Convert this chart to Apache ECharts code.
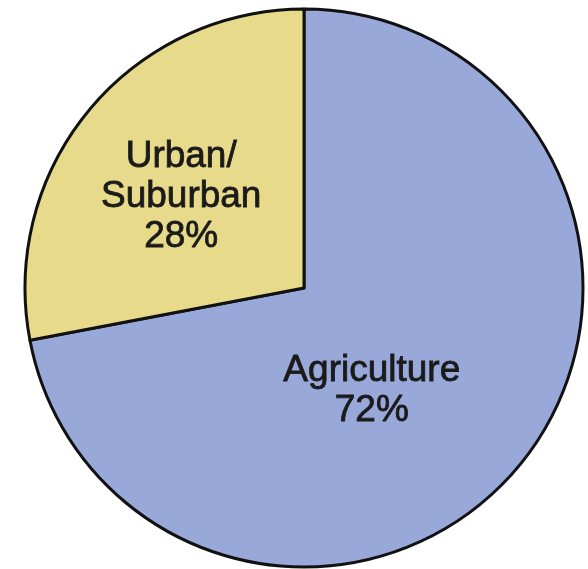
<!DOCTYPE html>
<html>
<head>
<meta charset="utf-8">
<script src="https://cdn.jsdelivr.net/npm/echarts@6/dist/echarts.min.js"></script>
<style>html,body{margin:0;padding:0;background:#fff;}#c{width:588px;height:569px;}</style>
</head>
<body>
<div id="c"></div>
<script>
var categories = ['Agriculture', 'Urban/\nSuburban'];
var values = [72, 28];
var colors = ['#98a8d8', '#e7da8a'];

var data = categories.map(function (name, i) {
  return { name: name, value: values[i], itemStyle: { color: colors[i] } };
});
var labelShift = [[-42, 12], [-13, 0]];

var chart = echarts.init(document.getElementById('c'), null, { renderer: 'canvas' });
chart.setOption({
  animation: false,
  backgroundColor: '#ffffff',
  series: [{
    type: 'pie',
    center: [304, 288],
    radius: 279,
    startAngle: 90,
    clockwise: true,
    data: data,
    itemStyle: { borderColor: '#111111', borderWidth: 3 },
    emphasis: { disabled: true },
    label: {
      show: true,
      position: 'inside',
      formatter: function (p) { return p.name + '\n' + p.value + '%'; },
      fontFamily: 'Liberation Sans, Arial, sans-serif',
      fontSize: 37,
      lineHeight: 40,
      color: '#1a1a1a',
      textBorderColor: '#1a1a1a',
      textBorderWidth: 0.8,
      align: 'center'
    },
    labelLine: { show: false },
    labelLayout: function (params) {
      var s = labelShift[params.dataIndex];
      return { dx: s[0], dy: s[1] };
    }
  }]
});
</script>
</body>
</html>
